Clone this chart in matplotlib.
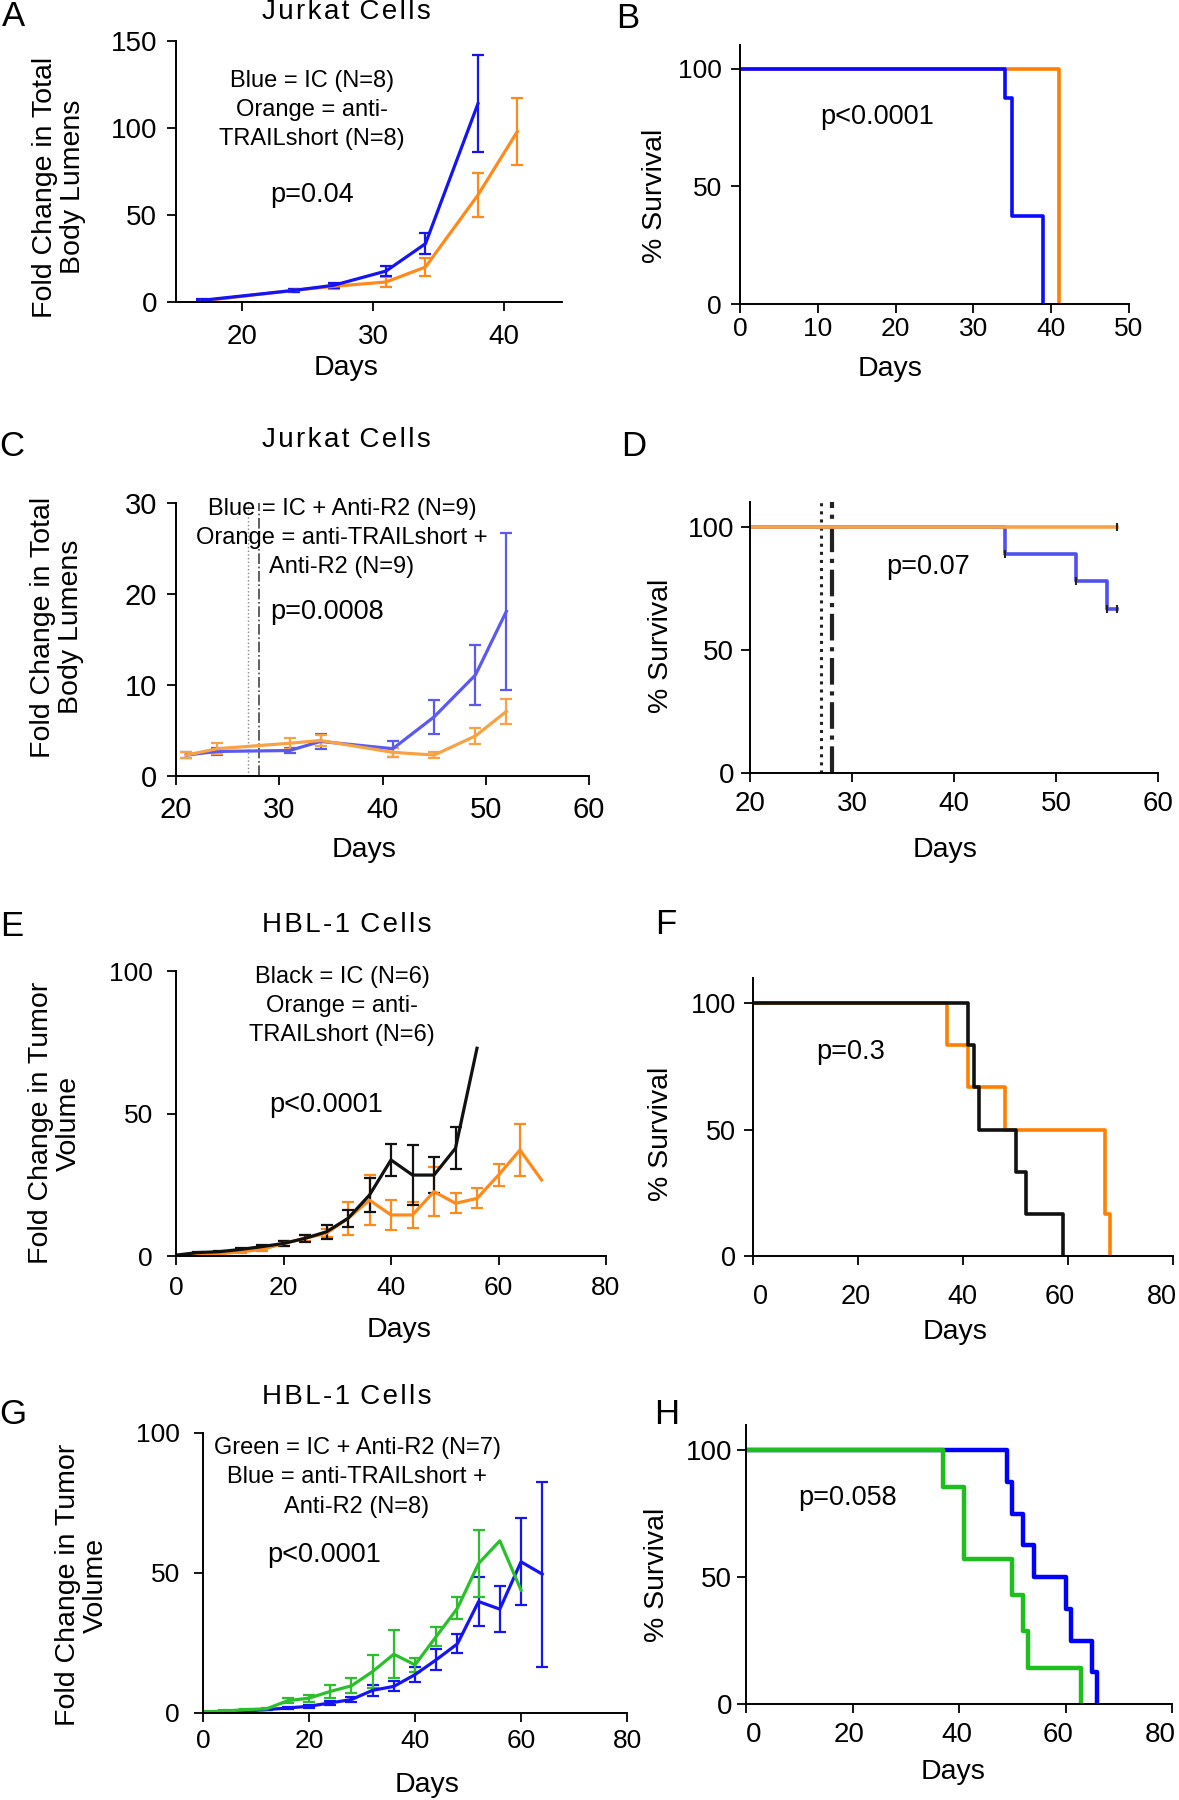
import numpy as np
import matplotlib
matplotlib.use("Agg")
import matplotlib.pyplot as plt
from matplotlib.transforms import ScaledTranslation

plt.rcParams['font.family'] = ['Liberation Sans', 'DejaVu Sans']

W, H = 1179, 1800
nan = np.nan

# ---- A: Jurkat growth, IC vs anti-TRAILshort
a_days_ic = [17, 24, 27, 31, 34, 38]
a_ic = [1, 6.7, 9.6, 17.8, 33.5, 114]
a_ic_err = [0.5, 1, 1.5, 3, 6, 28]
a_days_tr = [17, 24, 27, 31, 34, 38, 41]
a_tr = [0.6, 6.7, 9, 11.5, 20.1, 61.5, 98]
a_tr_err = [0.3, 1, 1.5, 3, 5, 12.5, 19.5]

# ---- B: Jurkat survival
b_ic_t = [0, 34, 35, 39]
b_ic_s = [100, 87.5, 37.5, 0]
b_tr_t = [0, 41]
b_tr_s = [100, 0]

# ---- C: Jurkat growth + anti-R2
c_days = [21, 24, 31, 34, 41, 45, 49, 52]
c_ic = [2.3, 2.7, 2.8, 3.8, 3.0, 6.5, 11.1, 18.1]
c_ic_err = [0.3, 0.4, 0.3, 0.8, 0.9, 1.9, 3.3, 8.6]
c_tr = [2.3, 3.0, 3.6, 3.9, 2.6, 2.3, 4.4, 7.1]
c_tr_err = [0.3, 0.6, 0.6, 0.6, 0.5, 0.3, 0.9, 1.4]
treat_days = [27, 28]

# ---- D: Jurkat survival + anti-R2
d_ic_t = [0, 45, 52, 55, 56]
d_ic_s = [100, 88.9, 77.8, 66.7, 66.7]
d_tr_t = [0, 56]
d_tr_s = [100, 100]
d_cens_t = [45, 52, 55, 56, 56]
d_cens_s = [88.9, 77.8, 66.7, 66.7, 100]

# ---- E: HBL-1 growth
e_days_ic = [0, 4, 8, 12, 16, 20, 24, 28, 32, 36, 40, 44, 48, 52, 56]
e_ic = [0.3, 1.2, 1.5, 2.3, 3.3, 4.4, 6.2, 8.5, 13.2, 21.4, 33.7, 28.4, 28.4, 37.8, 72.9]
e_ic_err = [0.2, 0.3, 0.4, 0.5, 0.6, 0.8, 1.2, 2.5, 3, 6, 5.6, 10.5, 6.4, 7.3, nan]
e_days_tr = [0, 4, 8, 12, 16, 20, 24, 28, 32, 36, 40, 44, 48, 52, 56, 60, 64, 68]
e_tr = [0, 0.2, 0.7, 1.5, 2.3, 4.4, 6.2, 8, 13.2, 19.6, 14.4, 14.4, 22.6, 18.5, 20.2, 28.4, 37.2, 26.7]
e_tr_err = [0.1, 0.2, 0.3, 0.5, 0.6, 1, 1, 1.5, 5.8, 8.8, 5.3, 4.5, 8.5, 3.5, 3.5, 4, 9, nan]

# ---- F: HBL-1 survival
f_ic_t = [0, 41, 42, 43, 50, 52, 59]
f_ic_s = [100, 83.3, 66.7, 50, 33.3, 16.7, 0]
f_tr_t = [0, 37, 41, 48, 67, 68]
f_tr_s = [100, 83.3, 66.7, 50, 16.7, 0]

# ---- G: HBL-1 growth + anti-R2
g_days_ic = [0, 4, 8, 12, 16, 20, 24, 28, 32, 36, 40, 44, 48, 52, 56, 60]
g_ic = [0.4, 0.7, 1.2, 1.5, 4.4, 5.3, 7.7, 9.7, 14.8, 21, 17.2, 27.3, 37.4, 53.4, 61.5, 43.9]
g_ic_err = [0.2, 0.3, 0.3, 0.3, 1, 1.2, 2.2, 2.7, 5.9, 8.6, 2.5, 3.3, 4, 12, nan, nan]
g_days_tr = [0, 4, 8, 12, 16, 20, 24, 28, 32, 36, 40, 44, 48, 52, 56, 60, 64]
g_tr = [0.2, 0.4, 0.7, 1.2, 1.8, 2.4, 3.6, 4.8, 8.1, 9.5, 13.7, 19, 24.7, 39.8, 37.1, 54, 49.6]
g_tr_err = [0.1, 0.1, 0.2, 0.3, 0.4, 0.5, 0.7, 0.8, 2, 1.8, 2.8, 3.8, 3.4, 8.9, 8.1, 15.6, 33]

# ---- H: HBL-1 survival + anti-R2
h_ic_t = [0, 37, 41, 50, 52, 53, 63]
h_ic_s = [100, 85.7, 57.1, 42.9, 28.6, 14.3, 0]
h_tr_t = [0, 49, 50, 52, 54, 60, 61, 65, 66]
h_tr_s = [100, 87.5, 75, 62.5, 50, 37.5, 25, 12.5, 0]

BLUE = '#1414f5'
ORANGE = '#ff8a1c'
LBLUE = '#5a5af0'
LORANGE = '#f7a345'
GREEN = '#2cbf2c'

fig = plt.figure(figsize=(W / 100, H / 100), dpi=100)


def axes_px(x0, y0, x1, y1):
    return fig.add_axes([x0 / W, 1 - y1 / H, (x1 - x0) / W, (y1 - y0) / H])


def ftext(x, y, s, **kw):
    kw.setdefault('ha', 'center')
    kw.setdefault('va', 'center')
    fig.text(x / W, 1 - y / H, s, **kw)


def spaced(s):
    # the panel titles are drawn with a little extra letter spacing
    return ' \u200a'.join('\u200a'.join(w) for w in s.split())


def style(ax, xlim, xticks, ylim, yticks, fs=19, xpad=6, ypad=6):
    for s in ['top', 'right']:
        ax.spines[s].set_visible(False)
    for s in ['left', 'bottom']:
        ax.spines[s].set_linewidth(1.4)
    ax.set_xlim(xlim)
    ax.set_ylim(ylim)
    ax.set_xticks(xticks)
    ax.set_yticks(yticks)
    ax.tick_params(axis='both', length=6.5, width=1.3, labelsize=fs)
    ax.tick_params(axis='x', pad=xpad)
    ax.tick_params(axis='y', pad=ypad)


def nudge_xlabels(ax, dxs):
    # the x tick labels of the survival panels sit a little off their ticks
    for lab, dx in zip(ax.get_xticklabels(), dxs):
        lab.set_transform(lab.get_transform() + ScaledTranslation(dx / 100, 0, fig.dpi_scale_trans))


def growth(ax, x, y, err, color, lw=2.3):
    ax.errorbar(x, y, yerr=err, color=color, lw=lw, elinewidth=1.6,
                capsize=4, capthick=1.6)


def km(ax, t, s, color, lw=2.6):
    ax.step(t, s, where='post', color=color, lw=lw)


# A
ax = axes_px(176, 41, 562, 302)
growth(ax, a_days_tr, a_tr, a_tr_err, ORANGE)
growth(ax, a_days_ic, a_ic, a_ic_err, BLUE)
style(ax, (15, 44.4), [20, 30, 40], (0, 150), [0, 50, 100, 150], fs=20, xpad=9.5, ypad=7)

# B
ax = axes_px(740, 45, 1129, 304)
km(ax, b_tr_t, b_tr_s, '#ff8000')
km(ax, b_ic_t, b_ic_s, '#0a0aff')
style(ax, (0, 50), [0, 10, 20, 30, 40, 50], (0, 110), [0, 50, 100], fs=19, xpad=3, ypad=6.5)

# C
ax = axes_px(176, 503, 589, 776)
ax.axvline(treat_days[0], color='#888888', lw=1.0, ls=':')
ax.axvline(treat_days[1], color='#444444', lw=1.2, ls='-.')
growth(ax, c_days, c_ic, c_ic_err, LBLUE)
growth(ax, c_days, c_tr, c_tr_err, LORANGE)
style(ax, (20, 60), [20, 30, 40, 50, 60], (0, 30), [0, 10, 20, 30], fs=21, xpad=8, ypad=7)

# D
ax = axes_px(750, 502, 1158, 773)
ax.axvline(treat_days[0], color='#222222', lw=2.2, ls=':')
ax.axvline(treat_days[1], color='#222222', lw=3.0, ls='-.')
km(ax, d_ic_t, d_ic_s, '#5050ee')
km(ax, d_tr_t, d_tr_s, LORANGE)
ax.plot(d_cens_t, d_cens_s, ls='none', marker='|', ms=6, mew=1.5, color='#222222')
style(ax, (20, 60), [20, 30, 40, 50, 60], (0, 110), [0, 50, 100], fs=20, xpad=6.5, ypad=5)

# E
ax = axes_px(176, 971, 606, 1256)
growth(ax, e_days_tr, e_tr, e_tr_err, ORANGE)
growth(ax, e_days_ic, e_ic, e_ic_err, '#111111')
style(ax, (0, 80), [0, 20, 40, 60, 80], (0, 100), [0, 50, 100], fs=19, xpad=8, ypad=10)

# F
ax = axes_px(753, 978, 1173, 1256)
km(ax, f_tr_t, f_tr_s, '#ff8000')
km(ax, f_ic_t, f_ic_s, '#111111')
style(ax, (0, 80), [0, 20, 40, 60, 80], (0, 110), [0, 50, 100], fs=19.5, xpad=13.5, ypad=6)
nudge_xlabels(ax, [8, -2, -1, -8, -11])

# G
ax = axes_px(203, 1433, 627, 1713)
growth(ax, g_days_tr, g_tr, g_tr_err, BLUE)
growth(ax, g_days_ic, g_ic, g_ic_err, GREEN)
style(ax, (0, 80), [0, 20, 40, 60, 80], (0, 100), [0, 50, 100], fs=19, xpad=5, ypad=10)

# H
ax = axes_px(746, 1425, 1172, 1704)
km(ax, h_tr_t, h_tr_s, '#0000ff', lw=3.2)
km(ax, h_ic_t, h_ic_s, '#1dbf1d', lw=3.2)
style(ax, (0, 80), [0, 20, 40, 60, 80], (0, 110), [0, 50, 100], fs=20, xpad=6.5, ypad=3.5)
nudge_xlabels(ax, [8, -3, -2, -7, -12])

# panel letters
for letter, x, y in [('A', 13, 17), ('B', 628, 18), ('C', 12, 447), ('D', 634, 446),
                     ('E', 12, 927), ('F', 666, 925), ('G', 13, 1415), ('H', 667, 1415)]:
    ftext(x, y, letter, fontsize=25)

# titles
ftext(346, 12, spaced('Jurkat Cells'), fontsize=20)
ftext(346, 440, spaced('Jurkat Cells'), fontsize=20)
ftext(347, 925, spaced('HBL-1 Cells'), fontsize=20)
ftext(347, 1397, spaced('HBL-1 Cells'), fontsize=20)

# y labels
ylab = 20.5
ftext(59, 187, 'Fold Change in Total\nBody Lumens', fontsize=ylab, rotation=90, linespacing=1.1)
ftext(57, 627, 'Fold Change in Total\nBody Lumens', fontsize=ylab, rotation=90, linespacing=1.1)
ftext(55, 1123, 'Fold Change in Tumor\nVolume', fontsize=ylab, rotation=90, linespacing=1.1)
ftext(82, 1585, 'Fold Change in Tumor\nVolume', fontsize=ylab, rotation=90, linespacing=1.1)
ftext(655, 196, '% Survival', fontsize=ylab, rotation=90)
ftext(661, 646, '% Survival', fontsize=ylab, rotation=90)
ftext(661, 1134, '% Survival', fontsize=ylab, rotation=90)
ftext(657, 1575, '% Survival', fontsize=ylab, rotation=90)

# x labels
for x, y in [(346, 368), (890, 369), (364, 850), (945, 850),
             (399, 1330), (955, 1332), (427, 1785), (953, 1772)]:
    ftext(x, y, 'Days', fontsize=20.5)

# annotations
ann = 17
pv = 19.5
ftext(312, 81, 'Blue = IC (N=8)', fontsize=ann)
ftext(312, 110, 'Orange = anti-', fontsize=ann)
ftext(312, 139, 'TRAILshort (N=8)', fontsize=ann)
ftext(270, 195, 'p=0.04', fontsize=pv, ha='left')

ftext(820, 117, 'p<0.0001', fontsize=pv, ha='left')

ftext(342, 509, 'Blue = IC + Anti-R2 (N=9)', fontsize=ann)
ftext(342, 538, 'Orange = anti-TRAILshort +', fontsize=ann)
ftext(342, 567, 'Anti-R2 (N=9)', fontsize=ann)
ftext(270, 612, 'p=0.0008', fontsize=pv, ha='left')

ftext(886, 567, 'p=0.07', fontsize=pv, ha='left')

ftext(342, 977, 'Black = IC (N=6)', fontsize=ann)
ftext(342, 1006, 'Orange = anti-', fontsize=ann)
ftext(342, 1035, 'TRAILshort (N=6)', fontsize=ann)
ftext(269, 1105, 'p<0.0001', fontsize=pv, ha='left')

ftext(816, 1052, 'p=0.3', fontsize=pv, ha='left')

ftext(357, 1448, 'Green = IC + Anti-R2 (N=7)', fontsize=ann)
ftext(357, 1477, 'Blue = anti-TRAILshort +', fontsize=ann)
ftext(357, 1507, 'Anti-R2 (N=8)', fontsize=ann)
ftext(267, 1555, 'p<0.0001', fontsize=pv, ha='left')

ftext(798, 1498, 'p=0.058', fontsize=pv, ha='left')

fig.savefig('out.png', dpi=100)
